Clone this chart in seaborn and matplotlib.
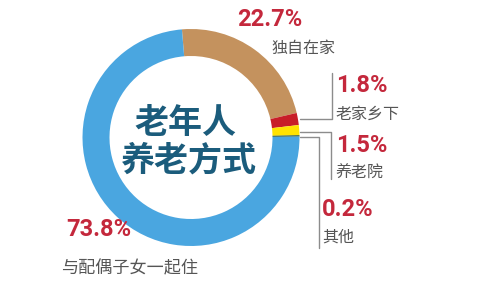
import matplotlib
matplotlib.use("Agg")
import matplotlib.pyplot as plt
import seaborn as sns

sns.set_theme(style="white")
plt.rcParams['font.family'] = ['Noto Sans CJK SC', 'DejaVu Sans']

# ---- data ----
categories = ["独自在家", "老家乡下", "养老院", "其他", "与配偶子女一起住"]
values = [22.7, 1.8, 1.5, 0.2, 73.8]
pct_labels = ["22.7%", "1.8%", "1.5%", "0.2%", "73.8%"]
title_lines = ["老年人", "养老方式"]

colors = ["#C4925E", "#C81E28", "#FFE300", "#1E4E2E", "#4AA6E0"]
pct_color = "#C4283C"
label_color = "#555555"
center_color = "#1B5C7C"
line_color = "#8C8C8C"

W, H = 500, 282
fig = plt.figure(figsize=(W / 100, H / 100), dpi=100)
ax = fig.add_axes([0, 0, 1, 1])


def Y(y):
    return H - y


cx, cy, R = 191, 137.5, 108.5
ax.pie(values, colors=colors, startangle=94.8, counterclock=False,
       center=(cx, Y(cy)), radius=R, frame=True,
       wedgeprops=dict(width=27, edgecolor="none", linewidth=0))
ax.set_xlim(0, W)
ax.set_ylim(0, H)
ax.set_aspect("equal")
ax.axis("off")

# center title
ax.text(185, Y(123), title_lines[0], ha="center", va="center",
        fontsize=24.5, fontweight="bold", color=center_color)
ax.text(189, Y(160), title_lines[1], ha="center", va="center",
        fontsize=24.5, fontweight="bold", color=center_color)

pfont = dict(family=["Roboto", "DejaVu Sans"], fontweight="bold",
             color=pct_color, fontsize=17)
lfont = dict(fontsize=11.5, color=label_color, fontweight="light")

# 独自在家
ax.text(237, Y(20), pct_labels[0], ha="left", va="center", **pfont)
ax.text(272, Y(48), categories[0], ha="left", va="center", **lfont)
# 老家乡下
ax.text(336, Y(85), pct_labels[1], ha="left", va="center", **pfont)
ax.text(335, Y(114), categories[1], ha="left", va="center", **lfont)
ax.plot([300, 332, 332], [Y(119), Y(119), Y(73)], color=line_color, lw=1)
# 养老院
ax.text(336, Y(145), pct_labels[2], ha="left", va="center", **pfont)
ax.text(335, Y(173), categories[2], ha="left", va="center", **lfont)
ax.plot([300, 331, 331], [Y(132), Y(132), Y(179)], color=line_color, lw=1)
# 其他
ax.text(322, Y(210), pct_labels[3], ha="left", va="center", **pfont)
ax.text(322, Y(237), categories[3], ha="left", va="center", **lfont)
ax.plot([300, 319, 319], [Y(137), Y(137), Y(248)], color=line_color, lw=1)
# 与配偶子女一起住
ax.text(66, Y(230), pct_labels[4], ha="left", va="center", **pfont)
ax.text(61, Y(268), categories[4], ha="left", va="center",
        fontsize=12.3, color=label_color, fontweight="light")

fig.savefig("out.png", dpi=100, facecolor="white")
